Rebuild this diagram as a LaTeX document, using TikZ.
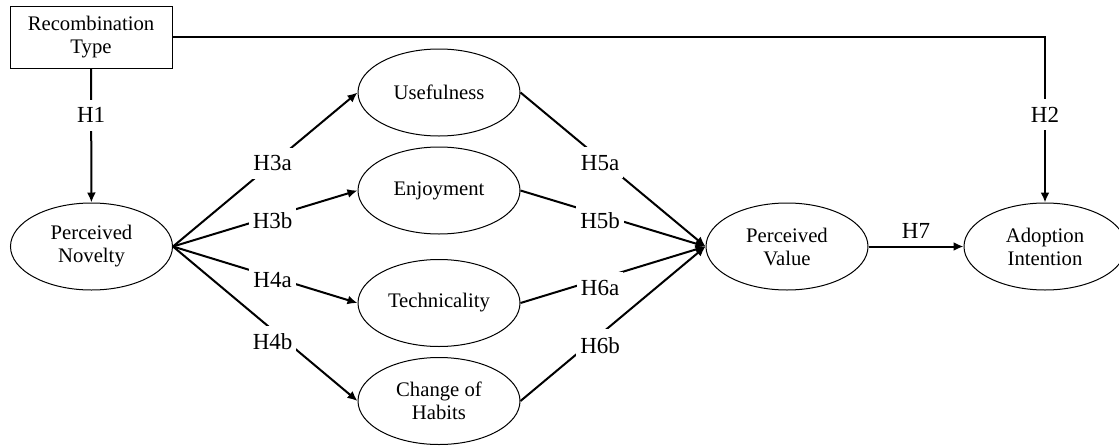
\documentclass[tikz,border=0pt]{standalone}
\usepackage{fontspec}
\setmainfont{Liberation Serif}
\usetikzlibrary{shapes,arrows.meta}

\begin{document}
\begin{tikzpicture}[x=0.5pt,y=-0.5pt,
  >={Latex[length=5pt,width=4.5pt]},
  construct/.style={ellipse,draw,line width=0.5pt,minimum width=81pt,minimum height=43.5pt,inner sep=0pt,align=center,font=\fontsize{10.35}{11.5}\selectfont},
  typebox/.style={rectangle,draw,line width=0.5pt,minimum width=81pt,minimum height=31pt,inner sep=0pt,align=center,font=\fontsize{10.35}{11.5}\selectfont},
  link/.style={line width=1pt,->},
  hyp/.style={fill=white,inner xsep=2pt,inner ysep=4pt,font=\fontsize{11.5}{13}\selectfont}]
\useasboundingbox (0,0) rectangle (1119,445);

\node[typebox] (type) at (91,37) {Recombination\\Type};
\node[construct] (nov) at (91.5,246.5) {Perceived\\Novelty};
\node[construct] (use) at (439,92.5) {Usefulness};
\node[construct] (enj) at (439,190.5) {Enjoyment};
\node[construct] (tec) at (439,303) {Technicality};
\node[construct] (hab) at (439,401) {Change of\\Habits};
\node[construct] (val) at (787,246.5) {Perceived\\Value};
\node[construct] (ado) at (1045,246.5) {Adoption\\Intention};

\draw[link] (type) -- node[hyp,pos=.35]{H1} (nov);
\draw[link] (type.east) -| node[hyp,pos=.735]{H2} (ado.north);

\draw[link] (nov.east) -- node[hyp,pos=.54]{H3a} (use.west);
\draw[link] (nov.east) -- node[hyp,pos=.54,yshift=-2pt]{H3b} (enj.west);
\draw[link] (nov.east) -- node[hyp,pos=.54,yshift=-1.5pt]{H4a} (tec.west);
\draw[link] (nov.east) -- node[hyp,pos=.54,yshift=-6pt]{H4b} (hab.west);

\draw[link] (use.east) -- node[hyp,pos=.43,yshift=-2pt]{H5a} (val.west);
\draw[link] (enj.east) -- node[hyp,pos=.43,yshift=-3pt]{H5b} (val.west);
\draw[link] (tec.east) -- node[hyp,pos=.43,yshift=-4.5pt]{H6a} (val.west);
\draw[link] (hab.east) -- node[hyp,pos=.43,yshift=-5.5pt]{H6b} (val.west);

\draw[link] (val) -- node[above,font=\fontsize{11.5}{13}\selectfont]{H7} (ado);
\end{tikzpicture}
\end{document}
